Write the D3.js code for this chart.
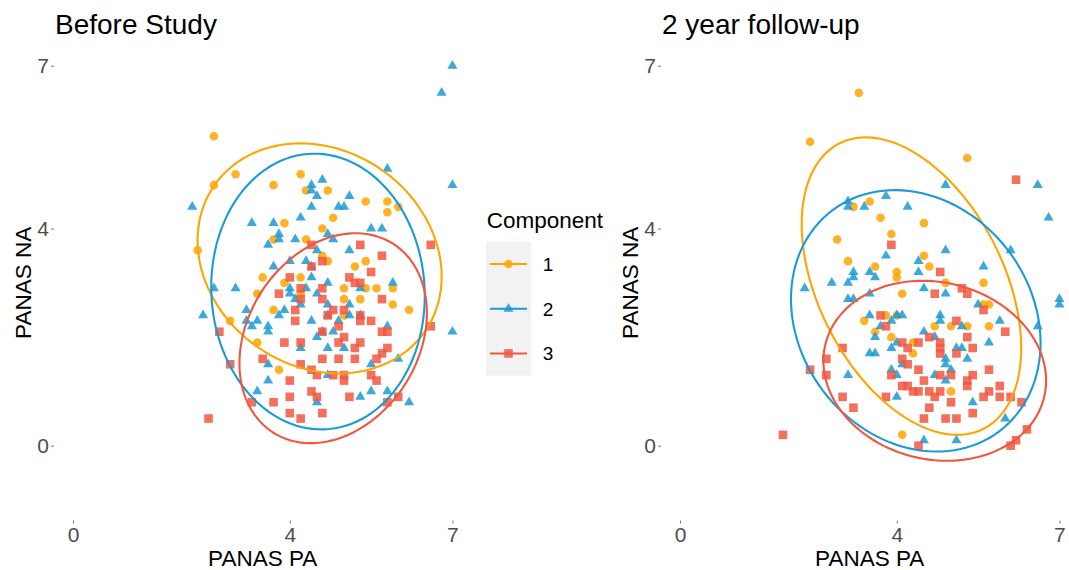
<!DOCTYPE html>
<html>
<head>
<meta charset="utf-8">
<script src="https://cdn.jsdelivr.net/npm/d3@7"></script>
<style>
  body { margin: 0; background: #fff; }
  svg { font-family: "Liberation Sans", Arial, sans-serif; }
</style>
</head>
<body>
<svg id="js_chart" width="1069" height="570"></svg>
<script>
const panel_titles = ["Before Study", "2 year follow-up"]
const components = ["1", "2", "3"]
const x_ticks = [0, 4, 7]
const y_ticks = [0, 4, 7]
const x_label = "PANAS PA"
const y_label = "PANAS NA"
const legend_title = "Component"

// [PANAS PA, PANAS NA] per participant
const before_component1 = [[2.6,5.7],[2.6,4.8],[3.0,5.0],[2.3,3.6],[4.2,5.0],[3.7,4.8],[4.3,4.7],[4.7,4.7],[5.4,4.5],[5.8,4.5],[5.8,4.3],[6.0,4.4],[4.8,4.2],[3.9,4.1],[4.6,4.0],[3.7,3.8],[4.3,3.8],[4.6,3.5],[4.7,3.4],[5.4,3.4],[5.2,3.3],[3.5,3.1],[4.2,3.1],[3.9,3.0],[5.0,2.9],[5.4,2.9],[5.6,2.9],[5.9,2.9],[3.4,2.8],[4.2,2.8],[5.0,2.7],[5.3,2.7],[5.9,2.6],[6.2,2.5],[3.7,2.5],[5.0,2.4],[2.9,2.3],[3.4,1.9],[3.8,1.4]]
const before_component2 = [[7.0,7.0],[6.8,6.5],[7.0,4.8],[2.2,4.4],[5.8,5.1],[4.6,4.9],[4.4,4.8],[4.4,4.7],[4.5,4.6],[5.1,4.6],[4.4,4.4],[4.9,4.4],[5.0,4.4],[4.2,4.2],[3.3,4.1],[3.7,4.1],[5.5,4.0],[5.7,4.0],[3.8,3.9],[4.7,3.9],[3.8,3.8],[4.1,3.8],[4.8,3.8],[3.6,3.7],[4.5,3.6],[5.1,3.6],[4.0,3.4],[4.3,3.4],[3.7,3.3],[4.4,3.3],[4.4,3.1],[4.7,3.0],[5.9,3.0],[2.6,2.9],[3.0,2.9],[4.0,2.9],[4.3,2.9],[5.3,2.9],[4.0,2.8],[4.5,2.8],[4.1,2.7],[4.2,2.6],[4.7,2.6],[5.1,2.6],[3.2,2.5],[3.8,2.4],[3.9,2.5],[2.4,2.4],[4.7,2.4],[5.1,2.4],[5.3,2.4],[4.9,2.3],[4.4,2.3],[3.2,2.3],[3.4,2.3],[3.3,2.2],[3.6,2.2],[5.8,2.2],[7.0,2.1],[3.6,2.1],[4.6,2.1],[4.8,2.1],[4.5,2.0],[4.2,1.8],[4.7,1.8],[5.0,1.8],[3.6,1.5],[5.5,1.5],[6.0,1.6],[4.7,1.3],[3.6,1.2],[3.4,1.0],[4.5,0.8],[5.3,0.9],[5.5,1.0],[5.8,1.0],[6.2,0.8]]
const before_component3 = [[4.4,3.7],[5.3,3.7],[6.6,3.7],[5.7,3.5],[4.6,3.4],[4.4,3.3],[5.5,3.2],[4.0,3.1],[5.1,3.1],[5.2,3.0],[5.3,3.0],[4.2,2.9],[4.6,2.9],[3.8,2.8],[4.2,2.7],[4.6,2.7],[5.7,2.7],[4.1,2.5],[4.8,2.5],[5.0,2.5],[4.7,2.4],[5.3,2.4],[4.1,2.3],[5.5,2.3],[4.9,2.2],[5.3,2.3],[2.7,2.1],[4.6,2.1],[5.0,2.0],[5.7,2.1],[5.8,2.1],[6.6,2.2],[3.9,1.9],[4.2,1.9],[4.9,1.9],[5.3,1.9],[5.2,1.8],[5.8,1.8],[5.7,1.7],[2.9,1.5],[3.5,1.6],[4.6,1.6],[4.9,1.6],[5.2,1.6],[5.6,1.6],[4.2,1.5],[4.4,1.4],[4.5,1.3],[4.8,1.3],[5.0,1.3],[5.0,1.2],[5.5,1.3],[5.6,1.2],[4.0,1.2],[4.4,1.0],[4.5,0.9],[4.0,0.9],[5.1,0.9],[5.8,0.8],[6.0,0.9],[3.3,0.8],[3.7,0.8],[4.0,0.6],[4.2,0.5],[4.6,0.6],[2.5,0.5]]

const followup_component1 = [[3.3,6.5],[2.4,5.6],[5.3,5.3],[3.5,4.5],[3.2,4.4],[3.7,4.2],[4.5,4.1],[3.9,3.9],[2.9,3.8],[3.1,3.4],[4.5,3.5],[4.6,3.3],[3.6,3.3],[4.0,3.2],[4.0,3.1],[4.9,3.0],[5.6,3.0],[4.1,2.8],[5.6,2.6],[5.7,2.6],[3.8,2.4],[4.0,2.4],[3.4,2.3],[4.7,2.2],[5.0,2.2],[5.3,2.2],[5.7,2.2],[3.6,2.1],[3.9,2.0],[4.3,1.9],[4.3,1.7],[5.0,1.0],[4.1,0.2]]
const followup_component2 = [[4.9,4.8],[6.6,4.8],[3.8,4.6],[3.1,4.5],[3.1,4.4],[3.4,4.4],[4.2,4.4],[6.8,4.2],[4.9,3.6],[6.1,3.6],[3.8,3.5],[4.4,3.4],[5.6,3.3],[3.2,3.2],[3.5,3.2],[4.4,3.2],[3.2,3.1],[3.6,3.1],[2.8,3.0],[3.1,3.0],[2.3,2.9],[4.5,2.9],[4.9,2.8],[3.1,2.7],[3.2,2.7],[3.5,2.8],[5.5,2.6],[7.0,2.7],[7.0,2.6],[3.5,2.4],[4.0,2.4],[4.1,2.4],[3.9,2.3],[4.8,2.4],[4.8,2.3],[3.7,2.2],[5.2,2.2],[5.9,2.3],[6.6,2.2],[4.5,2.1],[4.7,2.0],[3.6,2.0],[5.7,1.9],[4.0,1.9],[3.9,1.8],[5.1,1.8],[5.2,1.8],[3.5,1.7],[3.6,1.7],[4.9,1.6],[5.3,1.6],[3.1,1.3],[4.1,1.5],[3.9,1.4],[4.0,1.3],[4.9,1.5],[5.0,1.4],[4.7,1.3],[4.9,1.2],[4.0,0.9],[5.4,0.8],[6.0,0.5],[4.5,0.1],[5.1,0.1]]
const followup_component3 = [[6.2,4.9],[3.9,3.7],[4.8,3.2],[4.7,2.8],[5.2,2.9],[5.3,2.8],[5.6,2.5],[3.7,2.4],[3.8,2.2],[5.1,2.3],[6.0,2.1],[4.6,2.0],[5.3,2.0],[4.1,1.9],[4.4,1.9],[4.8,1.9],[4.2,1.8],[5.4,1.8],[4.8,1.8],[4.8,1.7],[5.1,1.7],[3.0,1.8],[2.7,1.6],[4.1,1.6],[4.2,1.5],[2.4,1.4],[2.7,1.3],[3.9,1.3],[4.4,1.4],[4.8,1.3],[5.0,1.3],[5.4,1.3],[5.7,1.4],[4.5,1.2],[5.3,1.2],[5.3,1.1],[4.1,1.1],[4.2,1.1],[4.3,1.0],[4.4,1.0],[4.6,1.0],[4.8,1.0],[5.9,1.1],[5.7,1.0],[4.7,0.9],[3.8,0.9],[3.0,0.9],[5.6,0.9],[5.9,0.9],[6.1,0.9],[6.3,0.8],[5.0,0.8],[3.2,0.7],[4.6,0.7],[5.4,0.6],[4.5,0.5],[4.9,0.5],[5.1,0.5],[6.4,0.3],[6.2,0.1],[6.1,0.0],[1.9,0.2],[4.4,0.0]]

// component ellipses: [mean PA, mean NA, var PA, var NA, cov]
const before_ellipses = [[4.55,3.45,5.07,4.49,-0.75],[4.52,2.84,3.88,6.45,-0.16],[4.80,1.98,2.99,3.74,0.80]]
const followup_ellipses = [[4.27,2.94,4.10,7.51,-2.31],[4.35,2.30,5.30,5.80,-0.93],[4.70,1.38,4.22,2.75,-0.37]]

const colors = ["#FFA500", "#1A9AD6", "#F0573F"]
const shapes = [d3.symbolCircle, d3.symbolTriangle, d3.symbolSquare]
const shape_sizes = [58, 44, 74]

window.onload = function() {
  let svg = d3.select("#js_chart")
  render_panel(svg, 54, panel_titles[0], [before_component1, before_component2, before_component3], before_ellipses)
  render_panel(svg, 661, panel_titles[1], [followup_component1, followup_component2, followup_component3], followup_ellipses)
  render_legend(svg)
}

function render_panel(svg, left, title, groups, ellipses){
  let top = 45.1, width = 417.4, height = 475.5
  let x = d3.scaleLinear().domain([-0.35, 7.35]).range([left, left + width])
  let y = d3.scaleLinear().domain([-1.38, 7.38]).range([top + height, top])

  let g = svg.append("g")

  groups.forEach(function(points, i){
    g.append("g").selectAll("path")
      .data(points)
      .enter().append("path")
      .attr("d", d3.symbol().type(shapes[i]).size(shape_sizes[i]))
      .attr("transform", d => `translate(${x(d[0])},${y(d[1])})`)
      .attr("fill", colors[i])
      .attr("fill-opacity", 0.85)
  })

  let line = d3.line().x(d => x(d[0])).y(d => y(d[1])).curve(d3.curveLinearClosed)
  ellipses.forEach(function(e, i){
    g.append("path")
      .attr("d", line(ellipse_points(e)))
      .attr("fill", "none")
      .attr("stroke", colors[i])
      .attr("stroke-width", 2.1)
  })

  let x_axis = g.append("g")
    .attr("transform", `translate(0,${top + height})`)
    .call(d3.axisBottom(x).tickValues(x_ticks).tickSize(3).tickPadding(3))
  let y_axis = g.append("g")
    .attr("transform", `translate(${left},0)`)
    .call(d3.axisLeft(y).tickValues(y_ticks).tickSize(3).tickPadding(2))
  ;[x_axis, y_axis].forEach(function(a){
    a.select(".domain").remove()
    a.selectAll(".tick line").attr("stroke", "#555").attr("stroke-width", 0.8)
    a.selectAll(".tick text").attr("fill", "#4D4D4D").attr("font-size", 21).attr("font-family", "Liberation Sans, Arial, sans-serif")
  })

  svg.append("text")
    .text(title)
    .attr("x", left + 1)
    .attr("y", 34.3)
    .attr("font-size", 28)
    .attr("fill", "#000")

  svg.append("text")
    .text(x_label)
    .attr("x", left + width / 2)
    .attr("y", 566)
    .attr("text-anchor", "middle")
    .attr("font-size", 22.5)
    .attr("fill", "#000")

  svg.append("text")
    .text(y_label)
    .attr("transform", `translate(${left - 23},${top + height / 2}) rotate(-90)`)
    .attr("text-anchor", "middle")
    .attr("font-size", 22.5)
    .attr("fill", "#000")
}

function ellipse_points(e){
  let cx = e[0], cy = e[1]
  let l11 = Math.sqrt(e[2])
  let l21 = e[4] / l11
  let l22 = Math.sqrt(e[3] - l21 * l21)
  return d3.range(0, 121).map(function(k){
    let t = k / 120 * Math.PI * 2
    return [cx + l11 * Math.cos(t), cy + l21 * Math.cos(t) + l22 * Math.sin(t)]
  })
}

function render_legend(svg){
  let left = 486, top = 241.7, key = 44.7
  let legend = svg.append("g")

  legend.append("text")
    .text(legend_title)
    .attr("x", left + 0.7)
    .attr("y", 227.7)
    .attr("font-size", 22.5)
    .attr("fill", "#000")

  components.forEach(function(c, i){
    let cy = top + key * i + key / 2
    legend.append("rect")
      .attr("x", left).attr("y", top + key * i)
      .attr("width", 45).attr("height", key)
      .attr("fill", "#F2F2F2")
    legend.append("line")
      .attr("x1", left + 4).attr("x2", left + 41)
      .attr("y1", cy).attr("y2", cy)
      .attr("stroke", colors[i]).attr("stroke-width", 2.1)
    legend.append("path")
      .attr("d", d3.symbol().type(shapes[i]).size(shape_sizes[i]))
      .attr("transform", `translate(${left + 22.5},${cy})`)
      .attr("fill", colors[i])
      .attr("fill-opacity", 0.85)
    legend.append("text")
      .text(c)
      .attr("x", left + 56.7)
      .attr("y", cy + 6.8)
      .attr("font-size", 19)
      .attr("fill", "#000")
  })
}
</script>
</body>
</html>
